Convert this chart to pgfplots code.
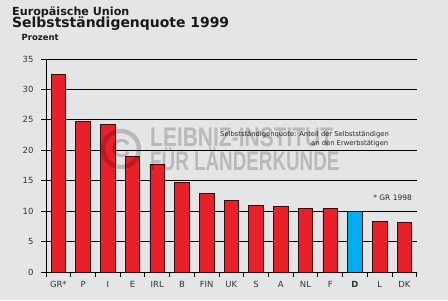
\documentclass[border=0pt]{standalone}
\usepackage{fontspec}
\setmainfont{DejaVu Sans}
\newfontfamily\wmfont{Liberation Sans}
\usepackage{graphicx}
\usepackage{pgfplots}
\pgfplotsset{compat=1.18}
\definecolor{bg}{HTML}{E4E5E7}
\definecolor{barred}{HTML}{E8202A}
\definecolor{barcyan}{HTML}{00AEEF}
\definecolor{barline}{HTML}{3A0A0A}
\begin{document}
\begin{tikzpicture}[x=1bp,y=1bp]
\fill[bg] (0,0) rectangle (448,300);
\node[anchor=base west,inner sep=0,font=\bfseries\fontsize{11.2}{13}\selectfont,text=black!90] at (12,285) {Europäische Union};
\node[anchor=base west,inner sep=0,font=\bfseries\fontsize{14}{15}\selectfont,text=black!90] at (12,272.5) {Selbstständigenquote 1999};
\node[anchor=base west,inner sep=0,font=\bfseries\fontsize{8.5}{10}\selectfont,text=black!90] at (21.5,259.5) {Prozent};
\begin{axis}[
  at={(46bp,28bp)}, anchor=south west,
  scale only axis, width=370.7bp, height=213bp,
  xmin=-0.5, xmax=14.5, ymin=0, ymax=35,
  ytick={0,5,...,35},
  xtick={0,...,14},
  xticklabels={GR*,P,I,E,IRL,B,FIN,UK,S,A,NL,F,\textbf{D},L,DK},
  minor xtick={-0.5,0.5,...,14.5},
  axis lines*=left,
  axis line style={black, line width=0.8bp, -},
  ymajorgrids,
  grid style={black, line width=0.8bp},
  tick align=outside,
  major tick length=5bp, minor tick length=5bp,
  tick style={black, line width=0.8bp},
  major x tick style={draw=none},
  ticklabel style={font=\fontsize{8.5}{10}\selectfont, text=black!80},
  yticklabel style={xshift=-4bp},
  xticklabel style={yshift=-1bp},
  /pgf/number format/assume math mode=true,
  ybar, bar width=14.5bp, bar shift=0pt,
  clip=false,
]
\addplot[fill=barred, draw=barline, line width=0.7bp] coordinates {
(0,32.5) (1,24.8) (2,24.2) (3,19.0) (4,17.7) (5,14.7) (6,12.9) (7,11.8)
(8,11.0) (9,10.8) (10,10.5) (11,10.5) (13,8.3) (14,8.2)};
\addplot[fill=barcyan, draw=barline, line width=0.7bp] coordinates {(12,10.0)};
\end{axis}
\node[anchor=base west,inner sep=0,font=\fontsize{6.8}{8}\selectfont,text=black!85] at (220,163.5) {Selbstständigenquote: Anteil der Selbstständigen};
\node[anchor=base west,inner sep=0,font=\fontsize{6.8}{8}\selectfont,text=black!85] at (311,155) {an den Erwerbstätigen};
\node[anchor=base east,inner sep=0,font=\fontsize{7.5}{9}\selectfont,text=black!85] at (412,99.5) {* GR 1998};
\begin{scope}[opacity=0.19]
\draw[black, line width=4.5bp] (121,151) circle (18);
\node[anchor=center,inner sep=0,font=\wmfont\bfseries\fontsize{26}{28}\selectfont,text=black] at (121,151) {C};
\node[anchor=base west,inner sep=0,text=black] at (150,153.3) {\scalebox{0.78}[1]{\wmfont\bfseries\fontsize{27}{30}\selectfont LEIBNIZ-INSTITUT}};
\node[anchor=base west,inner sep=0,text=black] at (150,130) {\scalebox{0.70}[1]{\wmfont\bfseries\fontsize{27}{30}\selectfont FÜR LÄNDERKUNDE}};
\end{scope}
\end{tikzpicture}
\end{document}
